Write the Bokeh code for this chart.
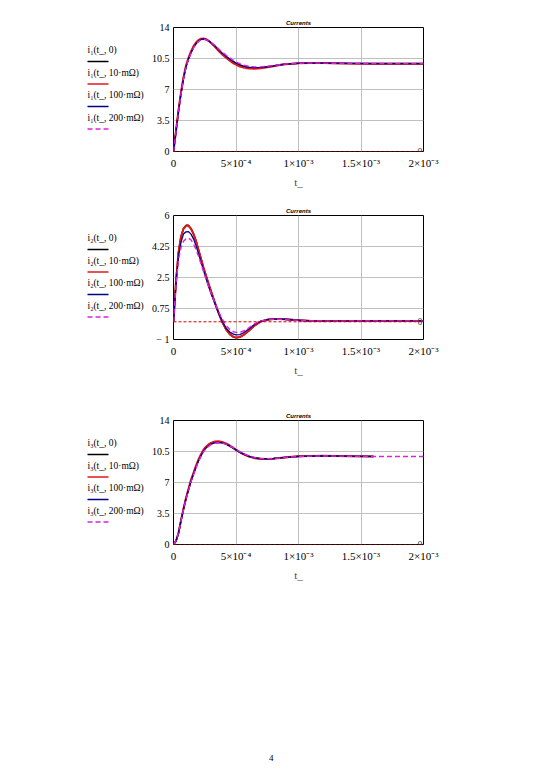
from bokeh.plotting import figure
from bokeh.models import Range1d, FixedTicker, Span, Label, Div
from bokeh.core.properties import value
from bokeh.layouts import column, row
from bokeh.embed import file_html
from bokeh.resources import INLINE

# ---- data (time in seconds, currents in A) ----
T = [0, 2e-5, 4e-5, 6e-5, 8e-5, 1e-4, 1.2e-4, 1.4e-4, 1.6e-4, 1.8e-4, 2e-4,
     2.2e-4, 2.4e-4, 2.6e-4, 2.8e-4, 3e-4, 3.3e-4, 3.6e-4, 3.9e-4, 4.2e-4,
     4.5e-4, 4.8e-4, 5e-4, 5.3e-4, 5.6e-4, 6e-4, 6.5e-4, 7e-4, 7.5e-4, 8e-4,
     8.5e-4, 9e-4, 1e-3, 1.1e-3, 1.2e-3, 1.4e-3, 1.6e-3, 1.8e-3, 2e-3]
T_SHORT = [0, 2e-5, 4e-5, 6e-5, 8e-5, 1e-4, 1.2e-4, 1.4e-4, 1.6e-4, 1.8e-4, 2e-4,
           2.2e-4, 2.4e-4, 2.6e-4, 2.8e-4, 3e-4, 3.3e-4, 3.6e-4, 3.9e-4, 4.2e-4,
           4.5e-4, 4.8e-4, 5e-4, 5.3e-4, 5.6e-4, 6e-4, 6.5e-4, 7e-4, 7.5e-4, 8e-4,
           8.5e-4, 9e-4, 1e-3, 1.1e-3, 1.2e-3, 1.4e-3, 1.6e-3]

I1_0 = [0, 2.3, 4.6, 6.6, 8.3, 9.6, 10.5, 11.2, 11.8, 12.2, 12.5, 12.68, 12.72, 12.66, 12.5, 12.28,
        11.9, 11.45, 11.05, 10.7, 10.4, 10.1, 9.95, 9.75, 9.6, 9.48, 9.44, 9.47, 9.55, 9.66, 9.78,
        9.87, 9.96, 9.98, 9.97, 9.94, 9.92, 9.92, 9.92]
I1_10 = [0, 2.35, 4.7, 6.7, 8.4, 9.7, 10.6, 11.3, 11.9, 12.3, 12.58, 12.74, 12.76, 12.68, 12.5, 12.25,
         11.85, 11.38, 10.95, 10.58, 10.25, 9.95, 9.8, 9.6, 9.47, 9.37, 9.35, 9.4, 9.5, 9.63, 9.76,
         9.86, 9.96, 9.99, 9.98, 9.94, 9.92, 9.92, 9.92]
I1_100 = [0, 2.3, 4.55, 6.55, 8.25, 9.55, 10.45, 11.15, 11.75, 12.18, 12.48, 12.66, 12.7, 12.65, 12.5,
          12.3, 11.93, 11.5, 11.1, 10.75, 10.45, 10.15, 10.0, 9.8, 9.64, 9.52, 9.47, 9.49, 9.56, 9.67,
          9.78, 9.87, 9.95, 9.98, 9.97, 9.94, 9.92, 9.92, 9.92]
I1_200 = [0, 2.25, 4.5, 6.5, 8.2, 9.5, 10.4, 11.1, 11.7, 12.12, 12.42, 12.6, 12.65, 12.62, 12.5, 12.32,
          12.0, 11.6, 11.22, 10.88, 10.58, 10.28, 10.12, 9.92, 9.76, 9.62, 9.55, 9.56, 9.62, 9.71, 9.8,
          9.88, 9.96, 9.99, 9.98, 9.95, 9.93, 9.92, 9.92]

I2_0 = [0, 2.32, 3.92, 4.82, 5.27, 5.44, 5.44, 5.27, 4.97, 4.57, 4.07, 3.57, 3.07, 2.62, 2.17, 1.74,
        1.12, 0.53, -0.02, -0.43, -0.71, -0.86, -0.9, -0.87, -0.75, -0.53, -0.21, 0.02, 0.12, 0.16,
        0.16, 0.14, 0.09, 0.05, 0.04, 0.04, 0.05, 0.05, 0.05]
I2_10 = [0, 2.3, 3.9, 4.8, 5.25, 5.42, 5.42, 5.25, 4.95, 4.55, 4.05, 3.55, 3.05, 2.6, 2.15, 1.72,
         1.1, 0.52, -0.02, -0.42, -0.7, -0.85, -0.89, -0.86, -0.74, -0.52, -0.2, 0.02, 0.12, 0.16,
         0.16, 0.14, 0.09, 0.05, 0.04, 0.04, 0.05, 0.05, 0.05]
I2_100 = [0, 2.2, 3.7, 4.5, 4.95, 5.08, 5.09, 4.95, 4.68, 4.3, 3.85, 3.38, 2.9, 2.45, 2.0, 1.6,
          1.05, 0.5, 0.03, -0.35, -0.58, -0.7, -0.74, -0.72, -0.62, -0.42, -0.14, 0.04, 0.12, 0.15,
          0.15, 0.13, 0.09, 0.05, 0.04, 0.04, 0.05, 0.05, 0.05]
I2_200 = [0, 2.1, 3.5, 4.2, 4.55, 4.68, 4.72, 4.62, 4.4, 4.08, 3.7, 3.28, 2.85, 2.42, 2.0, 1.62,
          1.08, 0.58, 0.15, -0.2, -0.43, -0.56, -0.6, -0.6, -0.52, -0.35, -0.1, 0.05, 0.12, 0.14,
          0.14, 0.12, 0.08, 0.05, 0.04, 0.04, 0.05, 0.05, 0.05]

I3_0 = [0, 0.4, 1.3, 2.7, 4.0, 5.2, 6.2, 7.2, 8.0, 8.8, 9.5, 10.1, 10.6, 10.95, 11.2, 11.38, 11.53,
        11.55, 11.48, 11.35, 11.12, 10.85, 10.65, 10.4, 10.18, 9.95, 9.77, 9.68, 9.67, 9.71, 9.77,
        9.84, 9.95, 9.99, 10.0, 9.97, 9.94]
I3_10 = [0, 0.4, 1.3, 2.75, 4.05, 5.25, 6.3, 7.3, 8.1, 8.9, 9.6, 10.2, 10.7, 11.05, 11.3, 11.48, 11.63,
         11.65, 11.57, 11.42, 11.18, 10.9, 10.7, 10.43, 10.2, 9.95, 9.75, 9.65, 9.64, 9.69, 9.76,
         9.84, 9.95, 10.0, 10.01, 9.97, 9.94]
I3_100 = [0, 0.4, 1.3, 2.7, 4.0, 5.2, 6.2, 7.15, 7.95, 8.75, 9.45, 10.05, 10.55, 10.9, 11.15, 11.34,
          11.5, 11.53, 11.47, 11.35, 11.13, 10.87, 10.68, 10.43, 10.2, 9.97, 9.79, 9.7, 9.68, 9.71,
          9.77, 9.84, 9.94, 9.98, 9.99, 9.97, 9.94]
I3_200 = [0, 0.45, 1.35, 2.7, 3.95, 5.1, 6.1, 7.05, 7.85, 8.65, 9.35, 9.95, 10.45, 10.82, 11.08, 11.27,
          11.44, 11.48, 11.44, 11.33, 11.14, 10.9, 10.72, 10.48, 10.26, 10.02, 9.83, 9.72, 9.69, 9.71,
          9.77, 9.84, 9.94, 9.98, 9.99, 9.97, 9.94, 9.93, 9.93]

X_TICKS = [0, 0.0005, 0.001, 0.0015, 0.002]
X_LABELS = ["0", "5×10⁻⁴", "1×10⁻³", "1.5×10⁻³", "2×10⁻³"]
Y_TICKS_A = [0, 3.5, 7, 10.5, 14]
Y_LABELS_A = ["0", "3.5", "7", "10.5", "14"]
Y_TICKS_B = [-1, 0.75, 2.5, 4.25, 6]
Y_LABELS_B = ["− 1", "0.75", "2.5", "4.25", "6"]
R_LABELS = ["0", "10·mΩ", "100·mΩ", "200·mΩ"]
SUBS = ["₁", "₂", "₃"]

# ---- styles / layout ----
COLORS = ["#000000", "#e01818", "#000080", "#e020e0"]
WIDTHS = [1.6, 2.0, 1.3, 1.4]
DASHES = ["solid", "solid", "solid", "5 3"]
SERIF = "Liberation Serif"
LEG_W = 144          # width of the legend strip (px)
LEG_X0, LEG_X1 = 87, 108   # legend sample line, px from strip left
LEG_ROW = 22.5       # px between legend rows
LEG_FIRST = 34       # first sample line, px below frame top
LEG_TEXT_UP = 11.5   # label centre above its sample line


def legend_strip(k, top, bottom, height, frame_h):
    lf = figure(width=LEG_W, height=height, x_range=Range1d(0, LEG_W),
                y_range=Range1d(frame_h, 0), x_axis_type=None, y_axis_type=None,
                output_backend="svg", toolbar_location=None,
                min_border_left=0, min_border_right=0, min_border_top=top,
                min_border_bottom=bottom)
    lf.grid.visible = False
    lf.outline_line_color = None
    lf.background_fill_color = "white"
    lf.border_fill_color = "white"
    for i in range(4):
        yl = LEG_FIRST + i * LEG_ROW
        lf.line([LEG_X0, LEG_X1], [yl, yl], line_color=COLORS[i], line_width=1.4,
                line_dash=DASHES[i])
        lf.text([LEG_X0], [yl - LEG_TEXT_UP], text=[f"i{SUBS[k]}(t_, {R_LABELS[i]})"],
                text_font=value(SERIF), text_font_size="9.5px", text_color="black",
                text_baseline="middle", text_align="left")
    return lf


def chart(k, ts, ys, yr, yticks, ylabels, top, bottom, height):
    p = figure(width=537 - LEG_W, height=height, x_range=Range1d(X_TICKS[0], X_TICKS[-1]),
               y_range=Range1d(*yr), output_backend="svg", toolbar_location=None,
               min_border_left=173 - LEG_W, min_border_right=114, min_border_top=top,
               min_border_bottom=bottom)
    p.title.text = "Currents"
    p.title.align = "center"
    p.title.text_color = "#000000"
    p.title.text_font = "Liberation Sans"
    p.title.text_font_style = "bold italic"
    p.title.text_font_size = "6px"
    p.title.standoff = 3
    p.outline_line_color = "black"
    p.outline_line_alpha = 1
    p.outline_line_width = 1
    p.background_fill_color = "white"
    p.border_fill_color = "white"

    p.xaxis.ticker = FixedTicker(ticks=X_TICKS)
    p.xaxis.major_label_overrides = dict(zip(X_TICKS, X_LABELS))
    p.yaxis.ticker = FixedTicker(ticks=yticks)
    p.yaxis.major_label_overrides = dict(zip(yticks, ylabels))
    p.xaxis.axis_label = "t_"
    for ax in (p.xaxis, p.yaxis):
        ax.axis_line_color = None
        ax.major_tick_line_color = None
        ax.minor_tick_line_color = None
        ax.major_tick_out = 0
        ax.major_tick_in = 0
        ax.major_label_text_font = SERIF
        ax.major_label_text_font_size = "10px"
        ax.major_label_text_color = "black"
        ax.major_label_standoff = 5
        ax.axis_label_text_font = SERIF
        ax.axis_label_text_font_size = "11px"
        ax.axis_label_text_font_style = "normal"
    p.yaxis.major_label_standoff = 4
    p.xaxis.major_label_text_font_size = "11px"
    p.xaxis.axis_label_standoff = 4
    p.grid.grid_line_color = "#c0c0c0"
    p.grid.grid_line_width = 1

    p.add_layout(Span(location=0, dimension="width", line_color="#d00000",
                      line_dash="3 2", line_width=1, level="overlay"))
    p.add_layout(Label(x=X_TICKS[-1], y=0, text="0", text_align="right",
                       text_baseline="middle", x_offset=-1, text_font=SERIF,
                       text_font_size="10px"))

    for i in range(4):
        p.line(ts[i], ys[i], line_color=COLORS[i], line_width=WIDTHS[i], line_dash=DASHES[i])
    frame_h = height - top - bottom
    return row(legend_strip(k, top, bottom, height, frame_h), p, spacing=0)


r1 = chart(0, [T, T, T, T], [I1_0, I1_10, I1_100, I1_200], (0, 14), Y_TICKS_A, Y_LABELS_A,
           27, 44, 195)
r2 = chart(1, [T, T, T, T], [I2_0, I2_10, I2_100, I2_200], (-1, 6), Y_TICKS_B, Y_LABELS_B,
           20, 61, 205)
r3 = chart(2, [T_SHORT, T_SHORT, T_SHORT, T], [I3_0, I3_10, I3_100, I3_200], (0, 14), Y_TICKS_A,
           Y_LABELS_A, 20, 44, 188)
page = Div(text="4", width=20, height=14, margin=(164, 0, 0, 269),
           styles={"font-family": SERIF, "font-size": "9px", "color": "black"})

layout = column(r1, r2, r3, page, spacing=0)
open("out.html", "w").write(file_html(layout, INLINE))
